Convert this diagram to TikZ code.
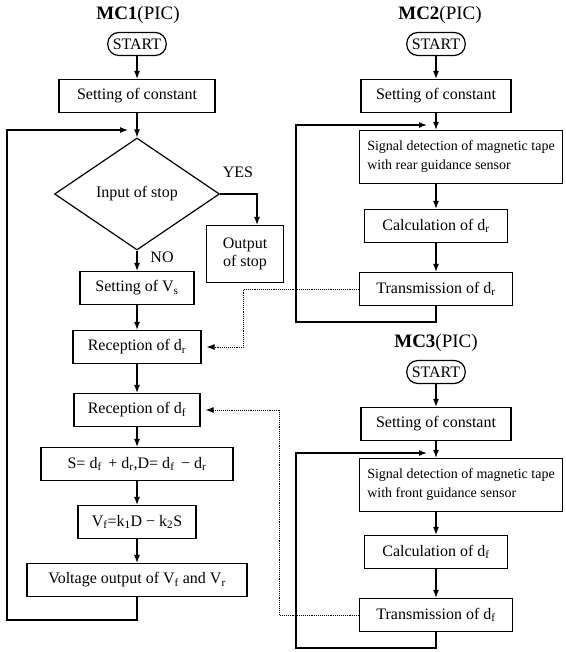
\documentclass[tikz,border=0pt]{standalone}
\usepackage{fontspec}
\setmainfont{Liberation Serif}
\usetikzlibrary{shapes.geometric,arrows.meta}

\begin{document}
\begin{tikzpicture}[x=1pt,y=-1pt,
    font=\fontsize{16}{18}\selectfont,
    box/.style={draw,line width=1.2pt,minimum height=33pt,inner sep=3pt},
    sigbox/.style={box,minimum width=203pt,minimum height=53pt,align=left,font=\fontsize{14}{19}\selectfont},
    titlelbl/.style={font=\fontsize{19}{21}\selectfont},
    startbox/.style={draw,line width=1.2pt,rounded corners=11pt,minimum height=23pt,inner xsep=5pt,inner ysep=1pt},
    decbox/.style={draw,diamond,line width=1.2pt,minimum width=165pt,minimum height=112pt,inner sep=0pt},
    arr/.style={line width=1.2pt,-{Latex[length=8pt,width=6pt]}},
    dotarr/.style={densely dotted,line width=0.9pt,-{Latex[length=8pt,width=6pt]},shorten >=5pt}]
		\useasboundingbox (0,0) rectangle (565,652);

		%MC1 column
		\node[titlelbl] (t1) at (138,15) {\textbf{MC1}(PIC)};
		\node[startbox] (s1) at (137,44) {START};
		\node[box,minimum width=156pt] (c1) at (137,96) {Setting of constant};
		\node[decbox] (q1) at (137,194) {Input of stop};
		\node[box,minimum width=77pt,minimum height=57pt,align=center] (o1) at (245,254) {Output\\of stop};
		\node (yes) at (238,172) {YES};
		\node (no) at (162,257) {NO};
		\node[box,minimum width=114pt] (vs) at (137,288) {Setting of V\textsubscript{s}};
		\node[box,minimum width=128pt] (r1) at (137,347) {Reception of d\textsubscript{r}};
		\node[box,minimum width=126pt] (r2) at (137,410) {Reception of d\textsubscript{f}};
		\node[box,minimum width=192pt] (sd) at (137,464) {S= d\textsubscript{f} \,+ d\textsubscript{r},D= d\textsubscript{f} \,− d\textsubscript{r}};
		\node[box,minimum width=118pt] (vf) at (137,522) {V\textsubscript{f}=k\textsubscript{1}D − k\textsubscript{2}S};
		\node[box,minimum width=220pt] (vo) at (137,580) {Voltage output of V\textsubscript{f} and V\textsubscript{r}};
		\coordinate (in1) at (128,130);
		\coordinate (lp1) at (7,620);

		\draw[arr] (s1) -- (c1);
		\draw[arr] (c1) -- (q1);
		\draw[arr] (q1.east) -| ([xshift=12pt]o1.north);
		\draw[arr] (q1) -- (vs);
		\draw[arr] (vs) -- (r1);
		\draw[arr] (r1) -- (r2);
		\draw[arr] (r2) -- (sd);
		\draw[arr] (sd) -- (vf);
		\draw[arr] (vf) -- (vo);
		\draw[arr] (vo.south) |- (lp1) |- (in1);

		%MC2 column
		\node[titlelbl] (t2) at (440,15) {\textbf{MC2}(PIC)};
		\node[startbox] (s2) at (436,44) {START};
		\node[box,minimum width=150pt] (c2) at (436,96) {Setting of constant};
		\node[sigbox] (g2) at (461,157) {Signal detection of magnetic tape\\with rear guidance sensor};
		\node[box,minimum width=143pt] (a2) at (436,226) {Calculation of d\textsubscript{r}};
		\node[box,minimum width=153pt] (x2) at (436,289) {Transmission of d\textsubscript{r}};
		\coordinate (in2) at (427,125);
		\coordinate (lp2) at (296,322);

		\draw[arr] (s2) -- (c2);
		\draw[arr] (c2.south) -- (c2.south |- g2.north);
		\draw[arr] (g2.south -| a2.north) -- (a2.north);
		\draw[arr] (a2) -- (x2);
		\draw[arr] (x2.south) |- (lp2) |- (in2);

		%MC3 column
		\node[titlelbl] (t3) at (436,343) {\textbf{MC3}(PIC)};
		\node[startbox] (s3) at (436,372) {START};
		\node[box,minimum width=150pt] (c3) at (436,424) {Setting of constant};
		\node[sigbox] (g3) at (461,485) {Signal detection of magnetic tape\\with front guidance sensor};
		\node[box,minimum width=143pt] (a3) at (436,552) {Calculation of d\textsubscript{f}};
		\node[box,minimum width=153pt] (x3) at (436,615) {Transmission of d\textsubscript{f}};
		\coordinate (in3) at (427,453);
		\coordinate (lp3) at (296,648);

		\draw[arr] (s3) -- (c3);
		\draw[arr] (c3.south) -- (c3.south |- g3.north);
		\draw[arr] (g3.south -| a3.north) -- (a3.north);
		\draw[arr] (a3) -- (x3);
		\draw[arr] (x3.south) |- (lp3) |- (in3);

		%transfer of data
		\draw[dotarr] (x2.west) -| ([xshift=42pt]r1.east) -- (r1.east);
		\draw[dotarr] (x3.west) -| ([xshift=79pt]r2.east) -- (r2.east);
\end{tikzpicture}
\end{document}
